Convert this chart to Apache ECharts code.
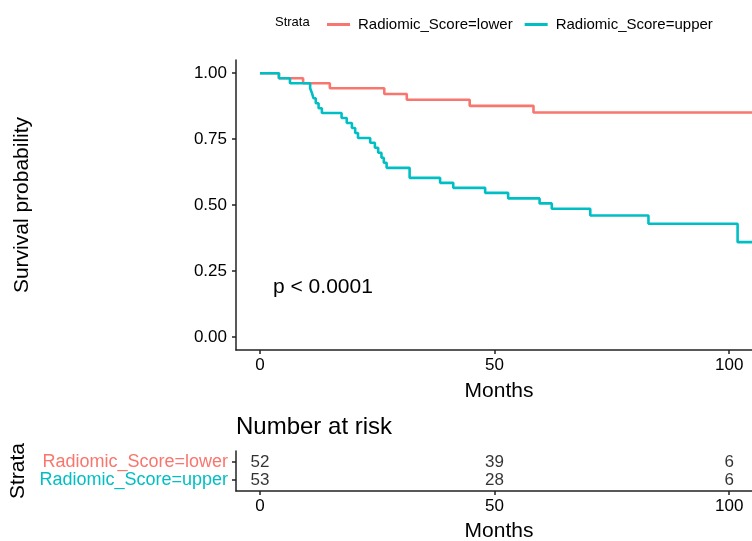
<!DOCTYPE html>
<html><head><meta charset="utf-8">
<script src="https://cdn.jsdelivr.net/npm/echarts@6/dist/echarts.min.js"></script>
<style>html,body{margin:0;padding:0;background:#fff}#c{width:752px;height:541px}</style>
</head><body><div id="c"></div>
<script>
// ---- data ----
const lowerName = 'Radiomic_Score=lower';
const upperName = 'Radiomic_Score=upper';
const lowerTimes = [0, 4.05, 9.2, 14.9, 26.5, 31.3, 44.7, 58.3, 110];
const lowerSurv  = [1.0, 0.981, 0.962, 0.943, 0.921, 0.899, 0.876, 0.851, 0.851];
const upperTimes = [0, 4.05, 6.4, 10.7, 11.1, 11.4, 11.9, 12.5, 13.2, 17.4, 18.5, 19.6, 20.3, 20.9, 23.5, 24.5, 25.2, 25.9, 26.4, 27.0, 31.9, 38.4, 41.2, 48.0, 52.9, 59.6, 62.2, 70.4, 82.8, 101.8, 110];
const upperSurv  = [1.0, 0.981, 0.962, 0.943, 0.924, 0.905, 0.886, 0.867, 0.849, 0.830, 0.811, 0.792, 0.773, 0.754, 0.736, 0.717, 0.698, 0.679, 0.660, 0.641, 0.603, 0.584, 0.565, 0.546, 0.525, 0.506, 0.486, 0.460, 0.429, 0.359, 0.359];
const xTicks = [0, 50, 100];
const yTicks = [0, 0.25, 0.5, 0.75, 1.0];
const riskTimes = [0, 50, 100];
const riskLower = [52, 39, 6];
const riskUpper = [53, 28, 6];
const pText = 'p < 0.0001';

const RED = '#F8766D', TEAL = '#00BFC4', INK = '#000';
const FONT = '"Liberation Sans", Arial, Helvetica, sans-serif';

const chart = echarts.init(document.getElementById('c'), null, {renderer: 'canvas'});
const zip = (a, b) => a.map((v, i) => [v, b[i]]);
const axisLineStyle = {color: '#222', width: 1.5};

const option = {
  animation: false,
  backgroundColor: '#fff',
  textStyle: {fontFamily: FONT},
  legend: {
    left: 322, top: 12,
    icon: 'rect', itemWidth: 23, itemHeight: 3, itemGap: 12,
    textStyle: {fontSize: 15, color: INK, fontFamily: FONT, padding: [0, 0, 0, 3]},
    data: [lowerName, upperName]
  },
  graphic: [
    {type: 'text', left: 275, top: 16, style: {text: 'Strata', font: '13px ' + FONT, fill: INK}},
    {type: 'text', left: 273, top: 277, style: {text: pText, font: '21px ' + FONT, fill: INK}},
    {type: 'text', left: 236, top: 415, style: {text: 'Number at risk', font: '24px ' + FONT, fill: INK}}
  ],
  grid: [
    {left: 236, top: 60, width: 526, height: 290, containLabel: false, outerBoundsMode: 'none'},
    {left: 236, top: 451, width: 526, height: 40, containLabel: false, outerBoundsMode: 'none'}
  ],
  xAxis: [
    {
      gridIndex: 0, type: 'value', min: -5.1, max: 107,
      name: 'Months', nameLocation: 'middle', nameGap: 31,
      nameTextStyle: {fontSize: 21, color: INK},
      axisLine: {onZero: false, lineStyle: axisLineStyle},
      axisTick: {customValues: xTicks, length: 4, lineStyle: axisLineStyle},
      axisLabel: {customValues: xTicks, fontSize: 17, color: INK, margin: 7},
      splitLine: {show: false}
    },
    {
      gridIndex: 1, type: 'value', min: -5.1, max: 107,
      name: 'Months', nameLocation: 'middle', nameGap: 30,
      nameTextStyle: {fontSize: 21, color: INK},
      axisLine: {onZero: false, lineStyle: axisLineStyle},
      axisTick: {customValues: xTicks, length: 4, lineStyle: axisLineStyle},
      axisLabel: {customValues: xTicks, fontSize: 17, color: INK, margin: 7},
      splitLine: {show: false}
    }
  ],
  yAxis: [
    {
      gridIndex: 0, type: 'value', min: -0.05, max: 1.05,
      name: 'Survival probability', nameLocation: 'middle', nameGap: 203,
      nameTextStyle: {fontSize: 21, color: INK},
      axisLine: {show: true, onZero: false, lineStyle: axisLineStyle},
      axisTick: {show: true, customValues: yTicks, length: 4, lineStyle: axisLineStyle},
      axisLabel: {customValues: yTicks, fontSize: 17, color: INK, margin: 9,
        formatter: v => v.toFixed(2)},
      splitLine: {show: false}
    },
    {
      gridIndex: 1, type: 'value', min: 0.4, max: 2.6,
      name: 'Strata', nameLocation: 'middle', nameGap: 206,
      nameTextStyle: {fontSize: 21, color: INK},
      axisLine: {show: true, onZero: false, lineStyle: axisLineStyle},
      axisTick: {show: true, customValues: [1, 2], length: 4, lineStyle: axisLineStyle},
      axisLabel: {customValues: [1, 2], margin: 8, hideOverlap: false,
        formatter: v => v === 2 ? '{lo|' + lowerName + '}' : '{up|' + upperName + '}',
        rich: {
          lo: {fontSize: 18, lineHeight: 16, color: RED, fontFamily: FONT},
          up: {fontSize: 18, lineHeight: 16, color: TEAL, fontFamily: FONT}
        }},
      splitLine: {show: false}
    }
  ],
  series: [
    {
      name: lowerName, type: 'line', xAxisIndex: 0, yAxisIndex: 0,
      step: 'end', showSymbol: false, symbol: 'none',
      lineStyle: {color: RED, width: 2.6}, itemStyle: {color: RED},
      data: zip(lowerTimes, lowerSurv)
    },
    {
      name: upperName, type: 'line', xAxisIndex: 0, yAxisIndex: 0,
      step: 'end', showSymbol: false, symbol: 'none',
      lineStyle: {color: TEAL, width: 2.6}, itemStyle: {color: TEAL},
      data: zip(upperTimes, upperSurv)
    },
    {
      type: 'scatter', xAxisIndex: 1, yAxisIndex: 1, symbolSize: 0, silent: true,
      label: {show: true, position: 'inside', fontSize: 17, color: INK,
        formatter: p => String(p.value[2])},
      data: riskTimes.map((t, i) => [t, 2, riskLower[i]])
        .concat(riskTimes.map((t, i) => [t, 1, riskUpper[i]]))
    }
  ]
};
chart.setOption(option);
</script></body></html>
